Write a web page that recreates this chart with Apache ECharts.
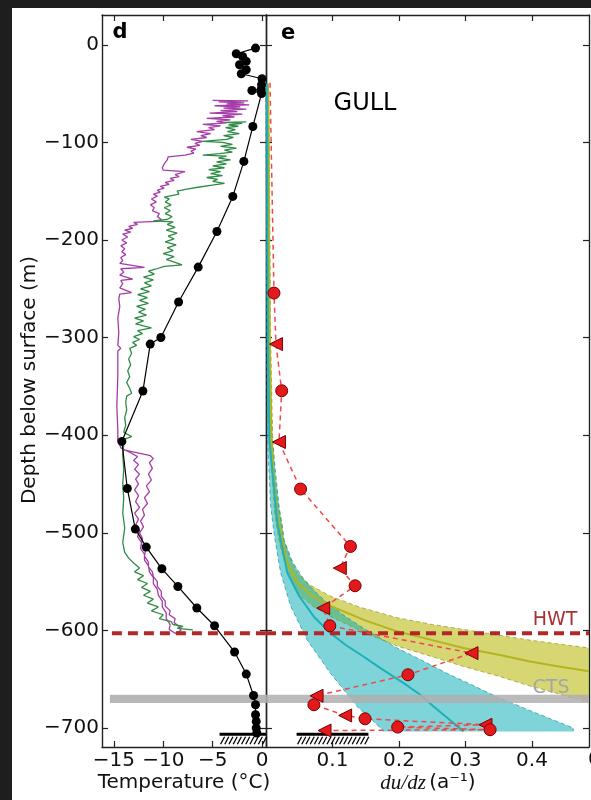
<!DOCTYPE html>
<html><head><meta charset="utf-8">
<script src="https://cdn.jsdelivr.net/npm/echarts@6/dist/echarts.min.js"></script>
<style>html,body{margin:0;padding:0;background:#1e1e1e;}#c{width:591px;height:800px;}</style>
</head><body><div id="c"></div>
<script>
// ---------- tick values ----------
const depthTicks = [0,-100,-200,-300,-400,-500,-600,-700];
const tempTicks = [-15,-10,-5,0];
const strainTicks = [0,0.1,0.2,0.3,0.4];
const strainTickLabels = [0.1,0.2,0.3,0.4];

// ---------- panel d: thermistor profile (T degC, depth m) ----------
const thermistorT = [-0.66,-2.61,-1.97,-1.6,-2.28,-1.6,-2.1,0.0,-0.05,-0.1,-1.03,-0.05,-0.93,-1.84,-2.96,-4.57,-6.46,-8.45,-10.24,-11.32,-12.06,-14.19,-13.64,-12.83,-11.72,-10.14,-8.52,-6.6,-4.81,-2.78,-1.6,-0.86,-0.66,-0.66,-0.59,-0.59,-0.53];
const thermistorDepth = [-3.4,-9.2,-12,-17,-20.5,-25.6,-29.7,-34.8,-41,-46,-46.8,-50,-83.7,-119.5,-155.4,-191.3,-227.8,-263.6,-299.9,-306.7,-354.8,-406.4,-454.6,-496.2,-514.7,-536.9,-555,-577.1,-595.3,-622.2,-644.8,-666.7,-676.2,-686.5,-693.3,-700,-705.2];

// magenta trace [T, depth]
const magentaTrace = [[-5.0,-57],[-1.4,-57.5],[-4.4,-58.5],[-1.8,-59.5],[-3.6,-60.5],[-1.3,-61.5],[-4.8,-62.5],[-2.2,-63.5],[-3.9,-65],[-1.6,-66],[-4.2,-67.5],[-2.5,-68.5],[-5.3,-70],[-2.0,-71],[-4.0,-72.5],[-2.8,-74],[-5.6,-75.5],[-3.2,-77],[-4.6,-78.5],[-3.6,-80],[-6.0,-81.5],[-4.2,-83],[-5.4,-85],[-4.8,-87],[-6.6,-89],[-5.2,-91],[-6.2,-93],[-5.6,-95],[-7.2,-97],[-6.0,-99],[-6.8,-101],[-6.3,-103],[-7.6,-105],[-6.7,-107],[-7.2,-109],[-6.9,-111],[-7.8,-113],
[-9.5,-114.8],[-9.6,-118],[-9.9,-122],[-10.1,-126],[-10.0,-128.5],[-7.8,-130],[-8.0,-131.5],[-8.8,-133],[-8.4,-135],[-9.3,-137],[-8.9,-139],[-9.8,-141],[-9.4,-143],[-10.3,-145],[-9.9,-147],[-10.6,-149],[-10.3,-151],[-11.0,-153],[-10.6,-155],[-11.2,-158],[-10.7,-161],[-11.3,-164],[-10.9,-167],[-11.1,-170],[-10.4,-173],[-10.6,-176],[-10.2,-179],[-10.6,-181],
[-13.0,-182],[-12.6,-184],[-13.5,-186],[-13.1,-188],[-13.9,-190],[-13.3,-192],[-14.1,-194],[-13.6,-197],[-14.2,-200],[-13.7,-203],[-14.3,-206],[-13.9,-209],[-14.2,-212],[-13.8,-215],[-14.3,-218],[-14.1,-221],[-14.4,-224],[-14.2,-226],[-11.9,-228],[-14.3,-229.5],[-14.0,-233],[-14.4,-236],[-13.1,-240],[-14.3,-241.5],[-14.1,-245],[-14.4,-249],[-13.2,-254],[-14.4,-255.5],[-14.5,-260],[-14.4,-268],[-14.6,-280],[-14.5,-295],[-14.6,-308],[-14.3,-311],[-14.6,-314],[-14.6,-340],[-14.7,-370],[-14.6,-395],[-14.6,-405],[-14.4,-410],[-14.3,-413],
[-13.3,-418],[-12.6,-422],[-13.0,-426],[-12.5,-430],[-12.9,-435],[-12.4,-440],[-12.8,-445],[-12.5,-450],[-12.9,-456],[-12.5,-462],[-12.8,-468],[-12.4,-474],[-12.9,-480],[-12.5,-486],[-12.8,-492],[-12.4,-498],[-12.6,-504],[-12.2,-510],[-12.3,-516],[-11.9,-522],[-11.9,-528],[-11.5,-534],[-11.4,-540],[-11.0,-546],[-11.0,-552],[-10.6,-558],[-10.5,-564],[-10.1,-570],[-10.1,-576],[-9.7,-582],[-9.7,-588],[-9.3,-594],[-9.4,-599],[-8.8,-603],[-8.2,-600],
[-8.4,-596],[-8.9,-592],[-8.8,-588],[-9.4,-584],[-9.3,-580],[-9.8,-575],[-9.8,-570],[-10.2,-565],[-10.2,-560],[-10.6,-555],[-10.6,-550],[-11.0,-545],[-11.1,-540],[-11.5,-535],[-11.5,-530],[-11.9,-524],[-11.8,-518],[-12.2,-512],[-12.1,-506],[-12.4,-500],[-12.0,-494],[-12.3,-488],[-11.9,-482],[-12.1,-476],[-11.6,-470],[-11.9,-464],[-11.4,-458],[-11.7,-452],[-11.2,-446],[-11.5,-440],[-11.1,-434],[-11.4,-428],[-11.0,-424],[-11.3,-421],[-14.0,-415]];

// green trace [T, depth]
const greenTrace = [[-1.6,-79],[-3.8,-79.5],[-2.0,-80.5],[-3.4,-82],[-2.4,-83.5],[-3.7,-85],[-2.7,-87],[-3.5,-89],[-2.3,-91],[-3.9,-93],[-2.9,-95],[-3.6,-97],[-6.0,-99],[-4.0,-100],[-3.0,-102],[-4.2,-104],[-2.6,-106],[-3.8,-108],[-3.0,-110],[-4.3,-111.5],[-6.0,-113],[-3.6,-114],[-4.4,-116],[-3.2,-118],[-4.6,-120],[-3.6,-122],[-5.0,-124],[-3.8,-126],[-5.4,-128],[-4.2,-130],[-5.2,-132],[-4.0,-134],[-5.6,-136],[-4.5,-138],[-5.0,-140],[-3.8,-142],[-5.2,-144],[-6.5,-146],[-7.6,-148],[-8.6,-150],[-8.4,-153],[-9.9,-156],[-9.4,-158],[-9.8,-161],[-9.2,-164],[-9.9,-167],[-9.3,-170],[-9.8,-173],[-9.1,-176],[-9.6,-179],[-11.0,-180.5],[-9.0,-181.5],[-9.6,-184],[-8.8,-187],[-9.7,-190],[-8.6,-193],[-9.5,-196],[-8.9,-199],[-9.8,-202],[-8.7,-205],[-9.6,-208],[-9.0,-211],[-10.0,-214],[-8.9,-217],[-9.7,-220],[-8.8,-223],[-8.1,-225.5],[-9.9,-227],[-10.8,-230],[-11.5,-232],[-10.9,-235],[-12.0,-238],[-11.0,-241],[-11.9,-244],[-11.2,-247],[-12.3,-250],[-11.4,-253],[-12.6,-256],[-11.6,-259],[-12.4,-262],[-11.5,-265],[-12.7,-268],[-11.8,-271],[-12.5,-274],[-11.7,-277],[-12.9,-280],[-12.0,-283],[-12.8,-286],[-11.2,-290],[-12.6,-293],[-12.1,-296],[-13.0,-299],[-12.4,-302],[-13.1,-305],[-12.7,-308],[-13.4,-311],[-13.2,-316],[-13.5,-322],[-13.3,-328],[-13.6,-334],[-13.4,-340],[-13.7,-346],[-13.4,-352],[-13.2,-357],[-13.7,-360],[-13.8,-366],[-13.7,-374],[-13.9,-382],[-13.8,-390],[-14.0,-397],[-13.2,-401.5],[-13.9,-404],[-14.0,-410],[-14.1,-420],[-14.0,-435],[-14.1,-450],[-14.0,-465],[-14.1,-480],[-13.9,-495],[-14.1,-510],[-13.9,-520],[-13.5,-526],[-13.0,-531],[-12.4,-536],[-12.9,-540],[-12.0,-544],[-12.6,-548],[-11.6,-552],[-12.2,-556],[-11.3,-560],[-12.0,-564],[-11.0,-568],[-11.6,-572],[-10.5,-576],[-11.2,-580],[-10.0,-584],[-10.4,-588],[-9.2,-591],[-9.0,-594],[-8.0,-596],[-8.6,-598],[-7.0,-599.5]];

// ---------- panel e: strain rate du/dz (a^-1) ----------
const obsStrain = [0.006,0.012,0.015,0.0236,0.0195,0.052,0.127,0.111,0.134,0.086,0.096,0.309,0.2135,0.076,0.072,0.119,0.149,0.330,0.198,0.337,0.088];
const obsDepth = [-39,-254.4,-306.7,-354.5,-407,-455.2,-514,-536.2,-554.3,-577.2,-595.3,-623.3,-645.5,-667,-676.2,-687.2,-690.6,-696.7,-699.1,-701.8,-702.6];
const obsMarker = ['none','circle','triangle','circle','triangle','circle','circle','triangle','circle','triangle','circle','triangle','circle','triangle','circle','triangle','circle','triangle','circle','circle','triangle'];

const yellowHi = [[0.004,-40],[0.005,-100],[0.006,-200],[0.007,-300],[0.010,-400],[0.013,-440],[0.018,-470],[0.024,-490],[0.027,-507],[0.035,-524],[0.047,-541],[0.065,-553],[0.097,-565],[0.14,-576],[0.197,-587],[0.25,-594],[0.297,-599],[0.35,-605],[0.397,-610],[0.44,-614],[0.4857,-618]];
const yellowLo = [[0.002,-40],[0.003,-100],[0.003,-200],[0.004,-300],[0.006,-400],[0.009,-440],[0.013,-480],[0.02,-510],[0.03,-535],[0.047,-562],[0.07,-575],[0.097,-586],[0.15,-603],[0.197,-616],[0.25,-627],[0.297,-637],[0.35,-647],[0.397,-657],[0.44,-665],[0.4857,-674]];
const yellowMid = [[0.003,-40],[0.004,-100],[0.0045,-200],[0.0055,-300],[0.008,-400],[0.011,-440],[0.016,-480],[0.031,-530],[0.047,-551],[0.07,-565],[0.097,-575],[0.15,-590],[0.197,-601],[0.25,-610],[0.297,-618],[0.35,-625],[0.397,-632],[0.44,-637],[0.4857,-642]];
const cyanHi = [[0.002,-40],[0.003,-100],[0.004,-200],[0.005,-300],[0.009,-400],[0.0145,-439],[0.02,-475],[0.027,-507],[0.04,-530],[0.057,-548],[0.075,-561],[0.092,-572],[0.12,-586],[0.147,-598],[0.197,-618],[0.235,-631],[0.272,-644],[0.31,-656],[0.347,-668],[0.4,-683],[0.44,-694],[0.462,-700],[0.462,-703.5]];
const cyanLo = [[0.0,-40],[0.0,-100],[0.001,-200],[0.001,-300],[0.002,-400],[0.007,-473],[0.013,-505],[0.022,-541],[0.037,-575],[0.062,-610],[0.097,-644],[0.137,-678],[0.16,-692],[0.177,-703.5]];
const cyanMid = [[0.001,-40],[0.002,-100],[0.002,-200],[0.003,-300],[0.005,-405],[0.017,-490],[0.032,-541],[0.05,-565],[0.072,-586],[0.097,-603],[0.12,-615],[0.147,-627],[0.175,-640],[0.207,-654],[0.232,-666],[0.252,-678],[0.277,-692],[0.297,-703.5]];

// ---------- reference levels ----------
const hwtDepth = -603;
const ctsTop = -666, ctsBottom = -674.5;
const hwtStartT = -15.2, ctsStartT = -15.4;
const bedDepth = -706.5;
const bedSpanT = [-4.3, 0.4];
const bedSpanStrain = [0.046, 0.154];

// ---------- axis ranges ----------
const tMin = -16.2, tMax = 0.4, dMin = -719.5, dMax = 30.5, sMin = 0, sMax = 0.4857;

const F = '"DejaVu Sans", sans-serif';
function fmt(v){ return v < 0 ? '\u2212' + Math.abs(v) : String(v); }
const axLine = {show:true, onZero:false, lineStyle:{color:'#222', width:1.4}};
function ax(type, grid, pos, min, max, ticks, labels, margin){
  return {type:'value', gridIndex:grid, position:pos, min:min, max:max,
    axisLine:axLine, splitLine:{show:false},
    axisTick:{show:true, inside:true, length:6, customValues:ticks, lineStyle:{color:'#222', width:1.2}},
    axisLabel: labels ? {show:true, customValues:labels, formatter:fmt, fontFamily:F, fontSize:20, color:'#111', margin:margin} : {show:false}};
}
const pairs = (a,b) => a.map((v,i)=>[v,b[i]]);

function polySeries(hi, lo, fill){
  const poly = hi.concat(lo.slice().reverse());
  return {type:'custom', xAxisIndex:2, yAxisIndex:2, z:1, silent:true, clip:true, data:[poly[0]],
    renderItem:(params, api)=>({type:'polygon', shape:{points: poly.map(p=>api.coord(p))}, style:{fill:fill}})};
}
function lineS(xi, data, color, width, type, z){
  return {type:'line', xAxisIndex:xi, yAxisIndex:xi, data:data, showSymbol:false, symbol:'none', z:z, silent:true, clip:true,
    lineStyle:{color:color, width:width, type:type||'solid'}};
}
function hband(xi, x0, x1, fill, z){
  return {type:'custom', xAxisIndex:xi, yAxisIndex:xi, z:z, silent:true, data:[[x0, ctsTop]],
    renderItem:(p, api)=>{ const a = api.coord([x0, ctsTop]), b = api.coord([x1, ctsBottom]);
      return {type:'rect', shape:{x:a[0], y:a[1], width:b[0]-a[0], height:b[1]-a[1]}, style:{fill:fill}}; }};
}
function bedSeries(xi, span){
  return {type:'custom', xAxisIndex:xi, yAxisIndex:xi, z:6, silent:true, data:[[span[0], bedDepth]],
    renderItem:(p, api)=>{
      const a = api.coord([span[0], bedDepth]), b = api.coord([span[1], bedDepth]);
      const ch = [{type:'line', shape:{x1:a[0], y1:a[1], x2:b[0], y2:b[1]}, style:{stroke:'#000', lineWidth:3}}];
      for (let x = a[0] + 1; x < b[0] - 3; x += 4.2) {
        ch.push({type:'line', shape:{x1:x, y1:a[1]+10, x2:x+4, y2:a[1]+2.5}, style:{stroke:'#000', lineWidth:1.3}});
      }
      return {type:'group', children:ch};
    }};
}

const obsData = obsStrain.map((v,i)=>({
  value:[v, obsDepth[i]],
  symbol: obsMarker[i],
  symbolSize: obsMarker[i] === 'triangle' ? 13 : 12,
  symbolRotate: obsMarker[i] === 'triangle' ? 90 : 0
}));

const chart = echarts.init(document.getElementById('c'), null, {renderer:'canvas', width:591, height:800});
chart.setOption({
  animation:false,
  backgroundColor:'#1e1e1e',
  grid:[
    {left:102, top:15, width:164, height:732},
    {left:266, top:15, width:323, height:732}
  ],
  xAxis:[
    ax('x',0,'bottom',tMin,tMax,tempTicks,tempTicks,4),
    ax('x',0,'top',tMin,tMax,tempTicks,null),
    ax('x',1,'bottom',sMin,sMax,strainTicks,strainTickLabels,4),
    ax('x',1,'top',sMin,sMax,strainTicks,null)
  ],
  yAxis:[
    ax('y',0,'left',dMin,dMax,depthTicks,depthTicks,3),
    ax('y',0,'right',dMin,dMax,depthTicks,null),
    ax('y',1,'left',dMin,dMax,depthTicks,null),
    ax('y',1,'right',dMin,dMax,depthTicks,null)
  ],
  graphic:[
    {type:'rect', z:-100, shape:{x:12, y:8, width:579, height:792}, style:{fill:'#ffffff'}},
    {type:'text', z:50, x:120, y:33, style:{text:'d', font:'bold 21px "DejaVu Sans"', fill:'#000', align:'center', verticalAlign:'middle'}},
    {type:'text', z:50, x:288, y:34, style:{text:'e', font:'bold 21px "DejaVu Sans"', fill:'#000', align:'center', verticalAlign:'middle'}},
    {type:'text', z:50, x:365, y:104, style:{text:'GULL', font:'24px "DejaVu Sans"', fill:'#000', align:'center', verticalAlign:'middle'}},
    {type:'text', z:50, x:555, y:620, style:{text:'HWT', font:'19px "DejaVu Sans"', fill:'#a83232', align:'center', verticalAlign:'middle'}},
    {type:'text', z:50, x:551, y:688, style:{text:'CTS', font:'19px "DejaVu Sans"', fill:'#a6a6a6', align:'center', verticalAlign:'middle'}},
    {type:'text', z:50, x:30, y:380, rotation:Math.PI/2, style:{text:'Depth below surface (m)', font:'20px "DejaVu Sans"', fill:'#111', align:'center', verticalAlign:'middle'}},
    {type:'text', z:50, x:184, y:783, style:{text:'Temperature (°C)', font:'20px "DejaVu Sans"', fill:'#111', align:'center', verticalAlign:'middle'}},
    {type:'text', z:50, x:428, y:783, style:{text:'{i|du/dz} {n|(a\u207B\u00B9)}', align:'center', verticalAlign:'middle',
      rich:{i:{font:'italic 21px "Liberation Serif"', fill:'#111'}, n:{font:'20px "DejaVu Sans"', fill:'#111'}}}},
    {type:'text', z:50, x:588, y:760, style:{text:'0', font:'20px "DejaVu Sans"', fill:'#111', align:'left', verticalAlign:'middle'}}
  ],
  series:[
    // panel d
    lineS(0, magentaTrace, '#a63ca8', 1.3, 'solid', 2),
    lineS(0, greenTrace, '#2e8b45', 1.3, 'solid', 2),
    hband(0, ctsStartT, tMax, 'rgba(175,175,175,0.9)', 3),
    {type:'line', xAxisIndex:0, yAxisIndex:0, data:pairs(thermistorT, thermistorDepth), z:4, silent:true,
      symbol:'circle', symbolSize:9, showSymbol:true, lineStyle:{color:'#000', width:1.2}, itemStyle:{color:'#000'}},
    lineS(0, [[hwtStartT, hwtDepth],[tMax, hwtDepth]], '#b02828', 4, [10,6], 5),
    bedSeries(0, bedSpanT),
    // panel e
    polySeries(yellowHi, yellowLo, 'rgba(180,180,0,0.55)'),
    polySeries(cyanHi, cyanLo, 'rgba(0,170,180,0.5)'),
    lineS(2, yellowHi, 'rgba(150,150,20,0.7)', 1, [4,3], 2),
    lineS(2, yellowLo, 'rgba(150,150,20,0.7)', 1, [4,3], 2),
    lineS(2, cyanHi, 'rgba(20,150,160,0.7)', 1, [4,3], 2),
    lineS(2, cyanLo, 'rgba(20,150,160,0.7)', 1, [4,3], 2),
    lineS(2, yellowMid, '#b4b41e', 2, 'solid', 3),
    lineS(2, cyanMid, '#1eb0b8', 2, 'solid', 3),
    hband(2, sMin, sMax, 'rgba(175,175,175,0.85)', 4),
    lineS(2, [[sMin, hwtDepth],[sMax, hwtDepth]], '#b02828', 4, [10,6], 5),
    bedSeries(2, bedSpanStrain),
    {type:'line', xAxisIndex:2, yAxisIndex:2, data:obsData, z:10, silent:true, showSymbol:true,
      lineStyle:{color:'#f04848', width:1.5, type:[5,4]},
      itemStyle:{color:'#e4191c', borderColor:'#7a0000', borderWidth:1}}
  ]
});
</script>
</body></html>
